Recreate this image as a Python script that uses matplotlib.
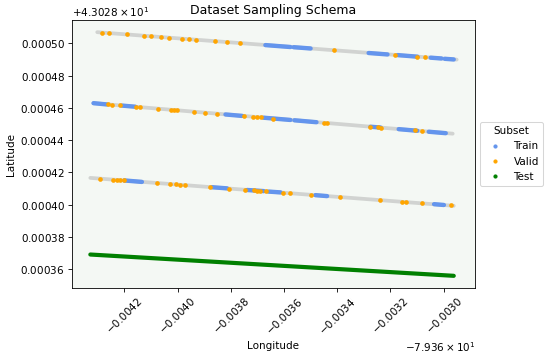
import matplotlib
matplotlib.use("Agg")
import matplotlib.pyplot as plt
from matplotlib.lines import Line2D
import numpy as np

# reference point, all values below are offsets from it
LON0 = -79.36
LAT0 = 43.028

# the three sampled tracks (start / end)
track_lon = [[-0.004302, -0.002951], [-0.004316, -0.002966], [-0.004328, -0.002962]]
track_lat = [[0.0005069, 0.0004899], [0.0004629, 0.0004440], [0.0004166, 0.0003993]]

# train runs: lon0, lat0, lon1, lat1
train_runs = [
    (-0.003670, 0.0004989, -0.003576, 0.0004977),
    (-0.003564, 0.0004976, -0.003500, 0.0004968),
    (-0.003282, 0.0004940, -0.003211, 0.0004931),
    (-0.003173, 0.0004927, -0.003098, 0.0004917),
    (-0.003049, 0.0004911, -0.003008, 0.0004906),
    (-0.002996, 0.0004904, -0.002962, 0.0004900),
    (-0.004316, 0.0004629, -0.004265, 0.0004621),
    (-0.004209, 0.0004614, -0.004159, 0.0004607),
    (-0.003820, 0.0004559, -0.003757, 0.0004550),
    (-0.003677, 0.0004539, -0.003576, 0.0004525),
    (-0.003561, 0.0004523, -0.003478, 0.0004511),
    (-0.003275, 0.0004483, -0.003237, 0.0004478),
    (-0.003169, 0.0004468, -0.003099, 0.0004458),
    (-0.003056, 0.0004452, -0.002992, 0.0004443),
    (-0.004200, 0.0004150, -0.004134, 0.0004141),
    (-0.003870, 0.0004108, -0.003814, 0.0004101),
    (-0.003739, 0.0004091, -0.003676, 0.0004084),
    (-0.003658, 0.0004081, -0.003613, 0.0004076),
    (-0.003482, 0.0004059, -0.003438, 0.0004053),
    (-0.003036, 0.0004003, -0.002999, 0.0003998),
]

valid_lon = [
    -0.004284, -0.004259, -0.004190, -0.004125, -0.004101, -0.004064, -0.004033,
    -0.003983, -0.003957, -0.003929, -0.003859, -0.003815, -0.003765, -0.003413,
    -0.003184, -0.003099, -0.003070,
    -0.004260, -0.004245, -0.004218, -0.004156, -0.004140, -0.004073, -0.004023,
    -0.004012, -0.004002, -0.003939, -0.003898, -0.003851, -0.003751, -0.003716,
    -0.003701, -0.003688, -0.003643, -0.003450, -0.003438, -0.003278, -0.003247,
    -0.003237, -0.003109, -0.003080,
    -0.004293, -0.004241, -0.004228, -0.004215, -0.004202, -0.004076, -0.004027,
    -0.004005, -0.003992, -0.003971, -0.003880, -0.003808, -0.003745, -0.003714,
    -0.003701, -0.003691, -0.003668, -0.003602, -0.003578, -0.003498, -0.003388,
    -0.003241, -0.003158, -0.003143, -0.003083, -0.002974,
]
valid_lat = [
    0.0005067, 0.0005064, 0.0005055, 0.0005047, 0.0005044, 0.0005039, 0.0005035,
    0.0005029, 0.0005025, 0.0005022, 0.0005013, 0.0005008, 0.0005001, 0.0004957,
    0.0004928, 0.0004917, 0.0004914,
    0.0004621, 0.0004619, 0.0004615, 0.0004606, 0.0004604, 0.0004595, 0.0004588,
    0.0004586, 0.0004585, 0.0004576, 0.0004570, 0.0004564, 0.0004550, 0.0004545,
    0.0004543, 0.0004541, 0.0004534, 0.0004507, 0.0004506, 0.0004483, 0.0004479,
    0.0004478, 0.0004460, 0.0004456,
    0.0004162, 0.0004155, 0.0004153, 0.0004152, 0.0004150, 0.0004134, 0.0004128,
    0.0004125, 0.0004124, 0.0004121, 0.0004109, 0.0004100, 0.0004092, 0.0004088,
    0.0004087, 0.0004086, 0.0004083, 0.0004074, 0.0004071, 0.0004061, 0.0004047,
    0.0004029, 0.0004018, 0.0004016, 0.0004009, 0.0003995,
]

test_lon = [-0.004328, -0.002962]
test_lat = [0.0003691, 0.0003559]

subset_names = ["Train", "Valid", "Test"]
subset_colors = ["cornflowerblue", "orange", "green"]

plt.rcParams["axes.formatter.use_mathtext"] = True

fig = plt.figure(figsize=(550 / 75, 356 / 75), dpi=75)
ax = fig.add_axes([72 / 550, 1 - 288 / 356, 403 / 550, 268 / 356])
ax.set_facecolor("#f4f8f4")

for lons, lats in zip(track_lon, track_lat):
    ax.plot(LON0 + np.array(lons), LAT0 + np.array(lats), color="gray",
            alpha=0.3, lw=3.6, solid_capstyle="round", zorder=1)

for lon0, lat0, lon1, lat1 in train_runs:
    ax.plot([LON0 + lon0, LON0 + lon1], [LAT0 + lat0, LAT0 + lat1],
            color=subset_colors[0], lw=4.2, solid_capstyle="round", zorder=2)

ax.scatter(LON0 + np.array(valid_lon), LAT0 + np.array(valid_lat),
           s=20, color=subset_colors[1], linewidths=0, zorder=3)

ax.plot(LON0 + np.array(test_lon), LAT0 + np.array(test_lat),
        color=subset_colors[2], lw=4.0, solid_capstyle="round", zorder=3)

ax.set_title("Dataset Sampling Schema")
ax.set_xlabel("Longitude")
ax.set_ylabel("Latitude")
plt.setp(ax.get_xticklabels(), rotation=45)

handles = [Line2D([], [], marker="o", ls="", color=c, markersize=3)
           for c in subset_colors]
ax.legend(handles, subset_names, title="Subset", loc="center left",
          bbox_to_anchor=(1, 0.5))

fig.savefig("out.png", dpi=75)
